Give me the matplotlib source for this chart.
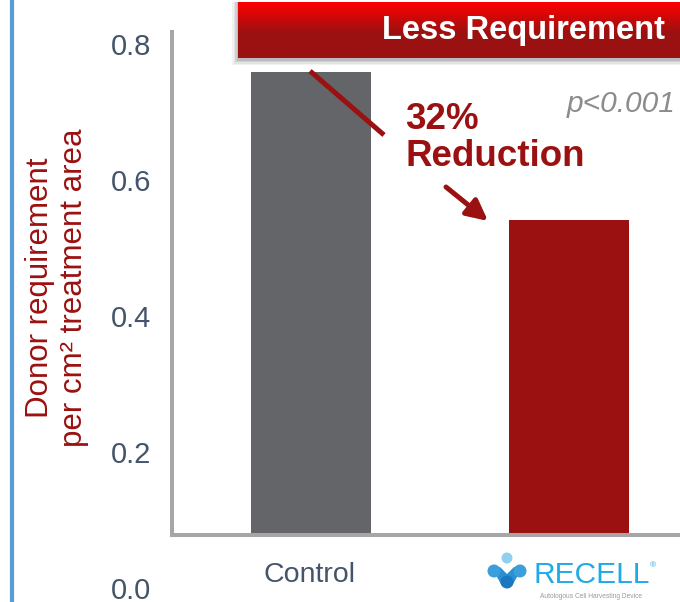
import numpy as np
import matplotlib
matplotlib.use("Agg")
import matplotlib.pyplot as plt
from matplotlib.colors import LinearSegmentedColormap
from matplotlib.patches import Circle, Polygon, Rectangle

# data
categories = ["Control", "RECELL"]
donor_need = [0.759, 0.541]
y_ticks = [0.0, 0.2, 0.4, 0.6, 0.8]
y_tick_labels = ["0.0", "0.2", "0.4", "0.6", "0.8"]
baseline = 0.078
reduction_text = "32%\nReduction"
p_text = "p<0.001"
banner_text = "Less Requirement"

RED = "#9b1111"
GREY_BAR = "#646569"
SLATE = "#44546a"
SPINE = "#a6a6a6"

W, H = 680, 602
plt.rcParams["font.family"] = ["Liberation Sans", "DejaVu Sans"]


def main():
    fig = plt.figure(figsize=(W / 100, H / 100), dpi=100)

    # main axes: value 0 sits at pixel row 588, 0.818 at row 32
    ax = fig.add_axes([172 / W, 1 - 588 / H, (W - 172) / W, 556 / H])
    x = np.arange(len(categories))
    ax.bar(x, np.array(donor_need) - baseline, bottom=baseline, width=0.465,
           color=[GREY_BAR, RED], zorder=2)
    ax.set_xlim(-0.539, 1.43)
    ax.set_ylim(0, 0.818)

    for side in ["top", "right"]:
        ax.spines[side].set_visible(False)
    ax.spines["left"].set_bounds(baseline, 0.818)
    ax.spines["bottom"].set_position(("data", baseline))
    for side in ["left", "bottom"]:
        ax.spines[side].set_color(SPINE)
        ax.spines[side].set_linewidth(2.9)
        ax.spines[side].set_capstyle("projecting")

    ax.set_yticks(y_ticks, y_tick_labels)
    ax.tick_params(axis="y", length=0, pad=15, labelsize=21, labelcolor=SLATE)
    ax.set_xticks([])
    ax.patch.set_alpha(0)

    ax.annotate(categories[0], (x[0], baseline), xytext=(-1, -29),
                textcoords="offset points", ha="center", va="center",
                fontsize=20.5, color=SLATE)
    ax.annotate(categories[1], (x[1], baseline), xytext=(16, -29),
                textcoords="offset points", ha="center", va="center",
                fontsize=21.5, color="#1fa9e6")

    fig.text(57 / W, 1 - 288 / H, "Donor requirement\nper cm² treatment area",
             rotation=90, ha="center", va="center", multialignment="center",
             fontsize=22.5, color=RED, linespacing=1.15)

    # overlay in pixel coordinates for the decorations
    ov = fig.add_axes([0, 0, 1, 1], zorder=5)
    ov.set_xlim(0, W)
    ov.set_ylim(H, 0)
    ov.axis("off")

    # left blue rule
    ov.plot([12, 12], [0, H], color="#5b9bd5", lw=3)

    # banner with shadow
    for i, a in enumerate([0.05, 0.06, 0.08, 0.1]):
        d = 6 - i * 1.5
        ov.add_patch(Rectangle((238 - d, 2), W, 56 + d + 1, color="black", alpha=a, lw=0))
    cmap = LinearSegmentedColormap.from_list(
        "banner", [(0, "#ff0000"), (0.55, RED), (1, RED)])
    grad = np.linspace(0, 1, 100).reshape(-1, 1)
    ov.imshow(grad, cmap=cmap, extent=(238, W + 5, 58, 2), aspect="auto", zorder=3)
    ov.set_xlim(0, W)
    ov.set_ylim(H, 0)
    ov.text(382, 31, banner_text, color="white", fontsize=23.5, fontweight="bold",
            ha="left", va="center", zorder=4)

    # reduction call-out
    ov.plot([310, 384], [71, 135], color=RED, lw=3.6, solid_capstyle="butt")
    ov.annotate("", xy=(488, 221), xytext=(446, 187),
                arrowprops=dict(arrowstyle="-|>,head_length=0.9,head_width=0.45",
                                mutation_scale=14, color=RED, lw=3.6,
                                shrinkA=0, shrinkB=0))
    ov.text(405, 138, reduction_text, color=RED, fontsize=26.5, fontweight="bold",
            ha="left", va="center", linespacing=1.05)
    ov.text(567, 104, p_text, color="#8c8c8c", fontsize=21.5, style="italic",
            ha="left", va="center")

    # RECELL logo bits
    ov.add_patch(Circle((507, 558), 5.5, color="#8fd0ee", lw=0))
    ov.add_patch(Polygon([[492, 568], [500, 567], [507, 574], [514, 567],
                          [522, 568], [512, 586], [502, 586]],
                         closed=True, color="#2a90d2", lw=0))
    ov.add_patch(Circle((494, 571), 6.5, color="#3a9fdc", lw=0))
    ov.add_patch(Circle((520, 571), 6.5, color="#3a9fdc", lw=0))
    ov.add_patch(Circle((507, 582), 6.5, color="#1a78c0", lw=0))
    ov.text(653, 566, "®", color="#1fa9e6", fontsize=6, ha="center", va="center")
    ov.text(591, 596, "Autologous Cell Harvesting Device", color="#9a9a9a",
            fontsize=4.8, ha="center", va="center")

    fig.savefig("out.png", dpi=100)


if __name__ == "__main__":
    main()
